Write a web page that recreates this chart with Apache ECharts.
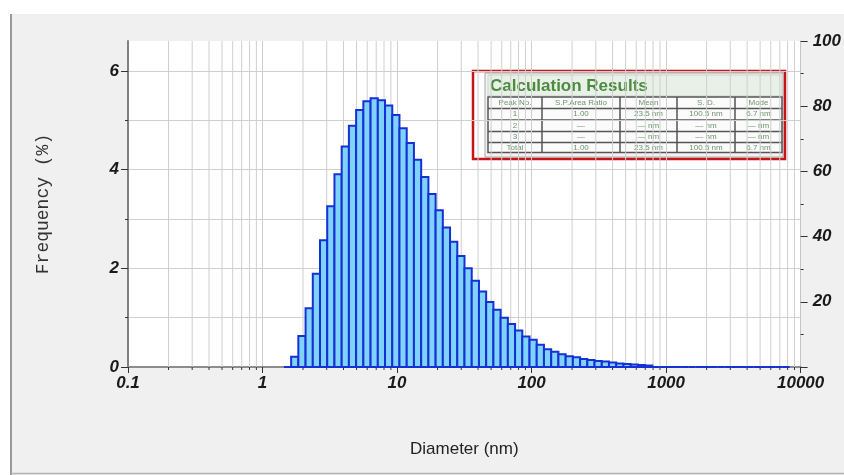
<!DOCTYPE html>
<html>
<head>
<meta charset="utf-8">
<script src="https://cdn.jsdelivr.net/npm/echarts@6/dist/echarts.min.js"></script>
<style>
  html, body { margin: 0; padding: 0; background: #f0f0f0; }
  #chart { width: 844px; height: 475px; }
</style>
</head>
<body>
<div id="chart"></div>
<script>
// bin edges (nm), log spaced
var binEdges = [1.442, 1.632, 1.846, 2.089, 2.364, 2.675, 3.027, 3.425, 3.876, 4.386,
  4.963, 5.617, 6.356, 7.194, 8.140, 9.213, 10.42, 11.80, 13.35, 15.11,
  17.10, 19.35, 21.89, 24.77, 28.04, 31.72, 35.90, 40.63, 45.97, 52.02,
  58.87, 66.62, 75.39, 85.31, 96.54, 109.2, 123.6, 139.9, 158.3, 179.2,
  202.7, 229.4, 259.6, 293.8, 332.5, 376.2, 425.7, 481.8, 545.2, 616.9,
  698.1, 790.0, 894.0, 1012, 1145, 1296, 1466, 1659, 1878, 2125,
  2404, 2721, 3079, 3483, 3942, 4461, 5048, 5712, 6464, 7315, 8278];

// frequency (%) for each bin
var frequency = [0, 0.21, 0.63, 1.19, 1.89, 2.57, 3.26, 3.91, 4.47, 4.89,
  5.21, 5.39, 5.45, 5.41, 5.30, 5.11, 4.84, 4.54, 4.20, 3.85,
  3.51, 3.18, 2.83, 2.54, 2.25, 2.00, 1.75, 1.53, 1.32, 1.16,
  1.00, 0.87, 0.74, 0.62, 0.55, 0.45, 0.36, 0.31, 0.26, 0.22,
  0.20, 0.16, 0.14, 0.12, 0.11, 0.09, 0.07, 0.06, 0.05, 0.04,
  0.03, 0, 0, 0, 0, 0, 0, 0, 0, 0,
  0, 0, 0, 0, 0, 0, 0, 0, 0, 0];

var decades = [0.1, 1, 10, 100, 1000];
var leftTicks = [0, 2, 4, 6];
var leftMinorTicks = [0, 1, 2, 3, 4, 5, 6];

// calculation results table
var tableTitle = 'Calculation Results';
var tableHeader = ['Peak No.', 'S.P.Area Ratio', 'Mean', 'S. D.', 'Mode'];
var tableRows = [
  ['1', '1.00', '23.5 nm', '100.5 nm', '6.7 nm'],
  ['2', '—', '— nm', '— nm', '— nm'],
  ['3', '—', '— nm', '— nm', '— nm'],
  ['Total', '1.00', '23.5 nm', '100.5 nm', '6.7 nm']
];

var minorTicks = [];
decades.forEach(function (d) {
  for (var m = 2; m <= 9; m++) minorTicks.push([+(d * m).toPrecision(3), 0]);
});

var barData = frequency.map(function (f, i) {
  return [binEdges[i], binEdges[i + 1], f];
});

var labelStyle = {
  color: '#1a1a1a', fontSize: 17, fontWeight: 'bold', fontStyle: 'italic',
  fontFamily: 'Liberation Sans'
};

// table graphics
var colX = [488, 542, 620, 677, 735, 782];
var rowY = [97, 108.5, 120, 131.5, 142.5, 152.5];
var tableEls = [
  { type: 'rect', shape: { x: 485, y: 73, width: 298, height: 84 },
    style: { fill: '#f3f3f3', stroke: '#a8a8a8', lineWidth: 1 } },
  { type: 'rect', shape: { x: 488, y: 75, width: 294, height: 21 },
    style: { fill: '#e8f0e8', stroke: '#c8d6c8', lineWidth: 1 } },
  { type: 'text', x: 490, y: 86,
    style: { text: tableTitle, fill: '#4b8b3d', font: 'bold 17px "Liberation Sans"',
      textVerticalAlign: 'middle', verticalAlign: 'middle' } },
  { type: 'rect', shape: { x: colX[0], y: rowY[0], width: colX[5] - colX[0], height: rowY[5] - rowY[0] },
    style: { fill: '#fbfbfb', stroke: '#555', lineWidth: 1.5 } }
];
for (var r = 1; r < rowY.length - 1; r++) {
  tableEls.push({ type: 'line', shape: { x1: colX[0], y1: rowY[r], x2: colX[5], y2: rowY[r] },
    style: { stroke: '#555', lineWidth: 1.5 } });
}
for (var c = 1; c < colX.length - 1; c++) {
  tableEls.push({ type: 'line', shape: { x1: colX[c], y1: rowY[0], x2: colX[c], y2: rowY[5] },
    style: { stroke: '#555', lineWidth: 1.5 } });
}
[tableHeader].concat(tableRows).forEach(function (row, ri) {
  row.forEach(function (txt, ci) {
    tableEls.push({ type: 'text',
      x: (colX[ci] + colX[ci + 1]) / 2, y: (rowY[ri] + rowY[ri + 1]) / 2,
      style: { text: txt, fill: '#6a966a', font: '8px "Liberation Sans"',
        align: 'center', verticalAlign: 'middle',
        textAlign: 'center', textVerticalAlign: 'middle' } });
  });
});
tableEls.push({ type: 'rect', shape: { x: 473, y: 71, width: 312, height: 88 },
  style: { fill: 'none', stroke: '#c41616', lineWidth: 2.5 } });

var myChart = echarts.init(document.getElementById('chart'));

var option = {
  backgroundColor: '#f0f0f0',
  animation: false,
  grid: { left: 128, right: 41, top: 41, bottom: 108, show: true,
    backgroundColor: '#fff', borderWidth: 0 },
  xAxis: [
    {
      type: 'log', logBase: 10, min: 0.1, max: 10000, splitNumber: 5,
      name: 'Diameter (nm)', nameLocation: 'middle', nameGap: 74,
      nameTextStyle: { color: '#222', fontSize: 17, fontFamily: 'Liberation Sans' },
      axisLine: { show: false },
      axisTick: { show: true, length: 6, lineStyle: { color: '#333' } },
      axisLabel: Object.assign({ margin: 8, formatter: function (v) { return String(+(+v).toPrecision(4)); } }, labelStyle),
      splitLine: { show: true, lineStyle: { color: '#cfcfcf' } }
    },
    {
      type: 'log', logBase: 10, min: 0.1, max: 10000, position: 'top',
      axisLine: { show: true, lineStyle: { color: '#8c8c8c', width: 2 } },
      axisTick: { show: false }, axisLabel: { show: false }, splitLine: { show: false }
    }
  ],
  yAxis: [
    {
      type: 'value', position: 'left', min: 0, max: 6.61, interval: 2,
      name: 'Frequency (%)', nameLocation: 'middle', nameRotate: 90, nameGap: 76,
      nameTextStyle: { color: '#333', fontSize: 18, fontFamily: 'Liberation Mono' },
      axisLine: { show: true, lineStyle: { color: '#808080', width: 2 } },
      axisTick: { show: true, length: 7, customValues: leftTicks, lineStyle: { color: '#333' } },
      axisLabel: Object.assign({ margin: 9, customValues: leftTicks }, labelStyle),
      splitLine: { show: false }
    },
    {
      type: 'value', position: 'right', min: 0, max: 100, interval: 20,
      axisLine: { show: true, lineStyle: { color: '#c4c4c4', width: 1 } },
      axisTick: { show: true, length: 7, lineStyle: { color: '#333' } },
      minorTick: { show: true, splitNumber: 2, length: 3, lineStyle: { color: '#333' } },
      axisLabel: Object.assign({ margin: 12, showMinLabel: false }, labelStyle),
      splitLine: { show: false }
    },
    {
      type: 'value', position: 'left', min: 0, max: 6.61, interval: 1,
      axisLine: { show: false },
      axisTick: { show: true, length: 3, customValues: leftMinorTicks, lineStyle: { color: '#333' } },
      axisLabel: { show: false },
      splitLine: { show: true, lineStyle: { color: '#cfcfcf' } }
    }
  ],
  series: [
    {
      // minor log grid lines and ticks
      type: 'custom', z: 1, silent: true,
      xAxisIndex: 0, yAxisIndex: 0,
      data: minorTicks,
      encode: { x: 0, y: 1 },
      renderItem: function (params, api) {
        var p = api.coord([api.value(0), 0]);
        var cs = params.coordSys;
        return {
          type: 'group',
          children: [
            { type: 'line', shape: { x1: p[0], y1: cs.y, x2: p[0], y2: cs.y + cs.height },
              style: { stroke: '#cfcfcf', lineWidth: 1 } },
            { type: 'line', shape: { x1: p[0], y1: cs.y + cs.height, x2: p[0], y2: cs.y + cs.height + 3 },
              style: { stroke: '#333', lineWidth: 1 } }
          ]
        };
      }
    },
    {
      type: 'custom', z: 2,
      xAxisIndex: 0, yAxisIndex: 0,
      data: barData,
      encode: { x: [0, 1], y: 2 },
      renderItem: function (params, api) {
        var p0 = api.coord([api.value(0), api.value(2)]);
        var p1 = api.coord([api.value(1), 0]);
        return {
          type: 'rect',
          shape: { x: p0[0], y: p0[1], width: p1[0] - p0[0], height: p1[1] - p0[1] },
          style: { fill: '#7fd3fb', stroke: '#1530d4', lineWidth: 2 }
        };
      }
    }
  ],
  graphic: [
    { type: 'rect', z: 50, shape: { x: 0, y: 0, width: 844, height: 14 }, style: { fill: '#fff' } },
    { type: 'rect', z: 50, shape: { x: 0, y: 0, width: 10, height: 475 }, style: { fill: '#fff' } },
    { type: 'line', z: 51, shape: { x1: 11, y1: 14, x2: 11, y2: 475 }, style: { stroke: '#9a9a9a', lineWidth: 2 } },
    { type: 'line', z: 51, shape: { x1: 11, y1: 473.5, x2: 844, y2: 473.5 }, style: { stroke: '#b4b4b4', lineWidth: 1.5 } },
    { type: 'group', z: 100, children: tableEls }
  ]
};

myChart.setOption(option);
</script>
</body>
</html>
